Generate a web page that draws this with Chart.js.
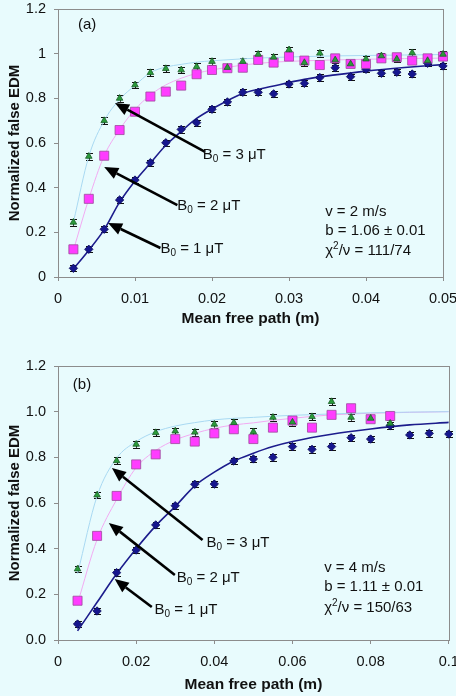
<!DOCTYPE html>
<html><head><meta charset="utf-8">
<script src="https://cdn.jsdelivr.net/npm/chart.js@4"></script>
<style>
html,body{margin:0;padding:0;background:#e8fbfd;overflow:hidden;}
#wa{position:absolute;left:0;top:0;width:456px;height:330px}
#wb{position:absolute;left:0;top:330px;width:456px;height:366px}
</style></head><body>
<div id="wa"><canvas id="ca"></canvas></div>
<div id="wb"><canvas id="cb"></canvas></div>
<script>
// ---------- Panel (a): v = 2 m/s ----------
const xA = [0.002,0.004,0.006,0.008,0.010,0.012,0.014,0.016,0.018,0.020,0.022,0.024,0.026,0.028,0.030,0.032,0.034,0.036,0.038,0.040,0.042,0.044,0.046,0.048,0.050];
const green3A = [0.245,0.54,0.70,0.80,0.86,0.915,0.933,0.927,0.942,0.965,0.938,0.965,0.997,0.984,1.017,0.96,1.002,0.972,0.954,0.976,0.99,0.976,1.004,0.969,0.997];
const pink2A  = [0.124,0.35,0.543,0.658,0.74,0.808,0.83,0.857,0.908,0.927,0.935,0.937,0.972,0.96,0.987,0.969,0.949,0.979,0.954,0.954,0.979,0.984,0.969,0.979,0.987];
const blue1A  = [0.039,0.124,0.214,0.345,0.434,0.512,0.601,0.661,0.691,0.751,0.784,0.827,0.827,0.82,0.864,0.867,0.893,0.937,0.897,0.93,0.912,0.917,0.909,0.957,0.945];
const fitXA   = [0.002,0.004,0.006,0.008,0.010,0.012,0.014,0.016,0.018,0.020,0.024,0.028,0.032,0.036,0.040,0.045,0.050];
const fit3A   = [0.245,0.54,0.70,0.795,0.858,0.915,0.94,0.952,0.962,0.968,0.977,0.983,0.987,0.99,0.992,0.994,0.996];
const fit2A   = [0.12,0.35,0.543,0.66,0.75,0.815,0.86,0.89,0.912,0.927,0.949,0.962,0.968,0.972,0.975,0.978,0.98];
const fit1A   = [0.036,0.12,0.212,0.335,0.43,0.51,0.59,0.652,0.71,0.752,0.822,0.855,0.885,0.905,0.922,0.938,0.951];
const xTicksA = [0,0.01,0.02,0.03,0.04,0.05];

// ---------- Panel (b): v = 4 m/s ----------
const xB = [0.005,0.010,0.015,0.020,0.025,0.030,0.035,0.040,0.045,0.050,0.055,0.060,0.065,0.070,0.075,0.080,0.085,0.090,0.095,0.100];
const green3B = [0.311,0.635,0.785,0.857,0.908,0.915,0.91,0.945,0.952,0.912,0.975,0.954,0.978,1.044,0.975,0.971,0.949];
const pink2B  = [0.172,0.456,0.631,0.769,0.813,0.88,0.869,0.905,0.923,0.88,0.93,0.961,0.93,0.986,1.015,0.967,0.981];
const blue1B  = [0.07,0.127,0.295,0.394,0.504,0.588,0.682,0.683,0.784,0.793,0.80,0.847,0.835,0.847,0.886,0.88,0.939,0.898,0.905,0.902];
const fitXB   = [0.005,0.010,0.015,0.020,0.025,0.030,0.035,0.040,0.045,0.050,0.055,0.060,0.070,0.080,0.090,0.100];
const fit3B   = [0.29,0.63,0.796,0.869,0.912,0.937,0.952,0.964,0.971,0.975,0.98,0.984,0.99,0.995,0.998,1.0];
const fit2B   = [0.16,0.44,0.615,0.755,0.83,0.876,0.905,0.927,0.942,0.951,0.962,0.971,0.986,0.993,0.997,1.0];
const fit1B   = [0.04,0.165,0.29,0.40,0.50,0.585,0.675,0.735,0.784,0.818,0.847,0.869,0.901,0.924,0.942,0.953];
const xTicksB = [0,0.02,0.04,0.06,0.08,0.1];

const yTicks = [0,0.2,0.4,0.6,0.8,1.0,1.2];
const errGreen = 0.015, errPink = 0.012, errBlue = 0.014;

const FONT = "'Liberation Sans', Arial, Helvetica, sans-serif";
const C = {
  green:'#2a9a3a', greenEdge:'#1b5e28',
  pink:'#ff3cff', pinkEdge:'#9a4a9a',
  blue:'#16168e', blueEdge:'#0a0a5a',
  fit3:'#a9d9f2', fit2:'#f2aaf2', fit1:'#1c1c8c',
  axis:'#8c8c8c', text:'#111'
};

function pts(xs, ys){ return ys.map((v,i)=>({x:xs[i], y:v})); }

function datasets(xs, g, p, b, fx, f3, f2, f1){
  return [
    {label:'3 uT', data:pts(xs,g), pointStyle:'triangle', pointRadius:3.8, backgroundColor:C.green, borderColor:C.greenEdge, borderWidth:0.8, showLine:false, err:errGreen, clip:false},
    {label:'2 uT', data:pts(xs,p), pointStyle:'rect', pointRadius:6.4, backgroundColor:C.pink, borderColor:C.pinkEdge, borderWidth:0.8, showLine:false, err:errPink, clip:false},
    {label:'1 uT', data:pts(xs,b), pointStyle:'rectRot', pointRadius:4.2, backgroundColor:C.blue, borderColor:C.blueEdge, borderWidth:0.8, showLine:false, err:errBlue, clip:false},
    {label:'fit3', data:pts(fx,f3), showLine:true, pointRadius:0, borderColor:C.fit3, borderWidth:1, cubicInterpolationMode:'monotone', fill:false},
    {label:'fit2', data:pts(fx,f2), showLine:true, pointRadius:0, borderColor:C.fit2, borderWidth:1, cubicInterpolationMode:'monotone', fill:false},
    {label:'fit1', data:pts(fx,f1), showLine:true, pointRadius:0, borderColor:C.fit1, borderWidth:1.6, cubicInterpolationMode:'monotone', fill:false}
  ];
}

const framePlugin = {
  id:'frame',
  beforeDatasetsDraw(chart){
    const {ctx, chartArea:a} = chart;
    ctx.save(); ctx.strokeStyle = C.axis; ctx.lineWidth = 1;
    ctx.strokeRect(Math.round(a.left)+0.5, Math.round(a.top)+0.5, Math.round(a.right-a.left), Math.round(a.bottom-a.top));
    ctx.strokeStyle = '#111'; ctx.lineWidth = 1.1;
    chart.data.datasets.forEach(d=>{
      if (!d.err) return;
      const xs = chart.scales.x, ys = chart.scales.y;
      d.data.forEach(pt=>{
        const px = Math.round(xs.getPixelForValue(pt.x))+0.5;
        const y1 = ys.getPixelForValue(pt.y + d.err), y2 = ys.getPixelForValue(pt.y - d.err);
        ctx.beginPath();
        ctx.moveTo(px, y1); ctx.lineTo(px, y2);
        ctx.moveTo(px-3.5, Math.round(y1)+0.5); ctx.lineTo(px+3.5, Math.round(y1)+0.5);
        ctx.moveTo(px-3.5, Math.round(y2)+0.5); ctx.lineTo(px+3.5, Math.round(y2)+0.5);
        ctx.stroke();
      });
    });
    ctx.restore();
  }
};

function richText(ctx, parts, x, y){
  let cx = x;
  parts.forEach(p=>{
    const small = p.sub || p.sup;
    ctx.font = (small ? '10px ' : '15px ') + FONT;
    const dy = p.sub ? 4 : (p.sup ? -5 : 0);
    ctx.fillText(p.t, cx, y+dy);
    cx += ctx.measureText(p.t).width;
  });
}

function arrow(ctx, x1, y1, x2, y2){
  const ang = Math.atan2(y2-y1, x2-x1);
  const hl = 14, hw = 6;
  const bx = x2 - hl*Math.cos(ang), by = y2 - hl*Math.sin(ang);
  ctx.strokeStyle = '#000'; ctx.fillStyle = '#000'; ctx.lineWidth = 2.6;
  ctx.beginPath(); ctx.moveTo(x1,y1); ctx.lineTo(bx,by); ctx.stroke();
  ctx.beginPath(); ctx.moveTo(x2,y2);
  ctx.lineTo(bx + hw*Math.sin(ang), by - hw*Math.cos(ang));
  ctx.lineTo(bx - hw*Math.sin(ang), by + hw*Math.cos(ang));
  ctx.closePath(); ctx.fill();
}

const annoPlugin = {
  id:'anno',
  afterDraw(chart){
    const A = chart.options.plugins.anno;
    const {ctx} = chart; const xs = chart.scales.x, ys = chart.scales.y;
    const X = v=>xs.getPixelForValue(v), Y = v=>ys.getPixelForValue(v);
    ctx.save();
    ctx.fillStyle = '#111'; ctx.textBaseline = 'middle'; ctx.textAlign = 'left';
    ctx.font = '15px ' + FONT;
    ctx.fillText(A.tag.t, X(A.tag.x), Y(A.tag.y));
    A.arrows.forEach(a=>{
      arrow(ctx, X(a.x1), Y(a.y1), X(a.x2), Y(a.y2));
      ctx.fillStyle = '#111';
      richText(ctx, [{t:'B'},{t:'0',sub:true},{t:' = ' + a.b + ' \u03bcT'}], X(a.tx), Y(a.ty));
    });
    ctx.fillStyle = '#111';
    A.stats.forEach(s=>{ richText(ctx, s.parts, X(A.sx), Y(s.y)); });
    ctx.restore();
  }
};

function makeChart(id, cfg){
  new Chart(document.getElementById(id), {
    type:'scatter',
    data:{datasets:cfg.datasets},
    plugins:[framePlugin, annoPlugin],
    options:{
      responsive:true, maintainAspectRatio:false, animation:false, devicePixelRatio:1,
      layout:{padding:{left:0, right:cfg.padR, top:cfg.padT, bottom:0}},
      plugins:{legend:{display:false}, tooltip:{enabled:false}, anno:cfg.anno},
      scales:{
        x:{type:'linear', min:0, max:cfg.xTicks[cfg.xTicks.length-1],
          afterBuildTicks(s){ s.ticks = cfg.xTicks.map(v=>({value:v})); },
          ticks:{callback:v=>v===0?'0':String(parseFloat(v.toFixed(3))), font:{size:14.5, family:FONT}, color:C.text, padding:9, maxRotation:0, autoSkip:false},
          grid:{drawOnChartArea:false, tickLength:4, color:C.axis},
          border:{color:C.axis},
          title:{display:true, text:'Mean free path (m)', font:{size:15.5, weight:'bold', family:FONT}, color:C.text, padding:{top:0, bottom:2}},
          afterFit(s){ s.height = cfg.xH; s.paddingLeft = 0; s.paddingRight = 0; }
        },
        y:{type:'linear', min:0, max:1.2,
          afterBuildTicks(s){ s.ticks = yTicks.map(v=>({value:v})); },
          ticks:{callback:cfg.yfmt, font:{size:14.5, family:FONT}, color:C.text, padding:8},
          grid:{drawOnChartArea:false, tickLength:4, color:C.axis},
          border:{color:C.axis},
          title:{display:true, text:'Normalized false EDM', font:{size:15, weight:'bold', family:FONT}, color:C.text, padding:{top:6, bottom:0}},
          afterFit(s){ s.width = 58; s.paddingTop = 0; s.paddingBottom = 0; }
        }
      }
    }
  });
}

makeChart('ca', {
  datasets: datasets(xA, green3A, pink2A, blue1A, fitXA, fit3A, fit2A, fit1A),
  xTicks: xTicksA, padR:13, padT:9, xH:53,
  yfmt: v=>String(parseFloat(v.toFixed(1))),
  anno:{
    tag:{t:'(a)', x:0.0026, y:1.128},
    arrows:[
      {x1:0.0191, y1:0.56, x2:0.0074, y2:0.779, tx:0.0188, ty:0.546, b:'3'},
      {x1:0.0155, y1:0.322, x2:0.0060, y2:0.493, tx:0.0155, ty:0.318, b:'2'},
      {x1:0.0133, y1:0.13, x2:0.0065, y2:0.242, tx:0.0133, ty:0.125, b:'1'}
    ],
    sx:0.0347,
    stats:[
      {y:0.291, parts:[{t:'v = 2 m/s'}]},
      {y:0.206, parts:[{t:'b = 1.06 \u00b1 0.01'}]},
      {y:0.116, parts:[{t:'\u03c7'},{t:'2',sup:true},{t:'/\u03bd = 111/74'}]}
    ]
  }
});

makeChart('cb', {
  datasets: datasets(xB, green3B, pink2B, blue1B, fitXB, fit3B, fit2B, fit1B),
  xTicks: xTicksB, padR:7, padT:36, xH:56,
  yfmt: v=>v.toFixed(1),
  anno:{
    tag:{t:'(b)', x:0.0038, y:1.117},
    arrows:[
      {x1:0.037, y1:0.438, x2:0.0138, y2:0.753, tx:0.038, ty:0.425, b:'3'},
      {x1:0.0299, y1:0.285, x2:0.0130, y2:0.5125, tx:0.0304, ty:0.272, b:'2'},
      {x1:0.024, y1:0.1445, x2:0.0145, y2:0.267, tx:0.0247, ty:0.131, b:'1'}
    ],
    sx:0.0681,
    stats:[
      {y:0.315, parts:[{t:'v = 4 m/s'}]},
      {y:0.232, parts:[{t:'b = 1.11 \u00b1 0.01'}]},
      {y:0.140, parts:[{t:'\u03c7'},{t:'2',sup:true},{t:'/\u03bd = 150/63'}]}
    ]
  }
});
</script>
</body></html>
